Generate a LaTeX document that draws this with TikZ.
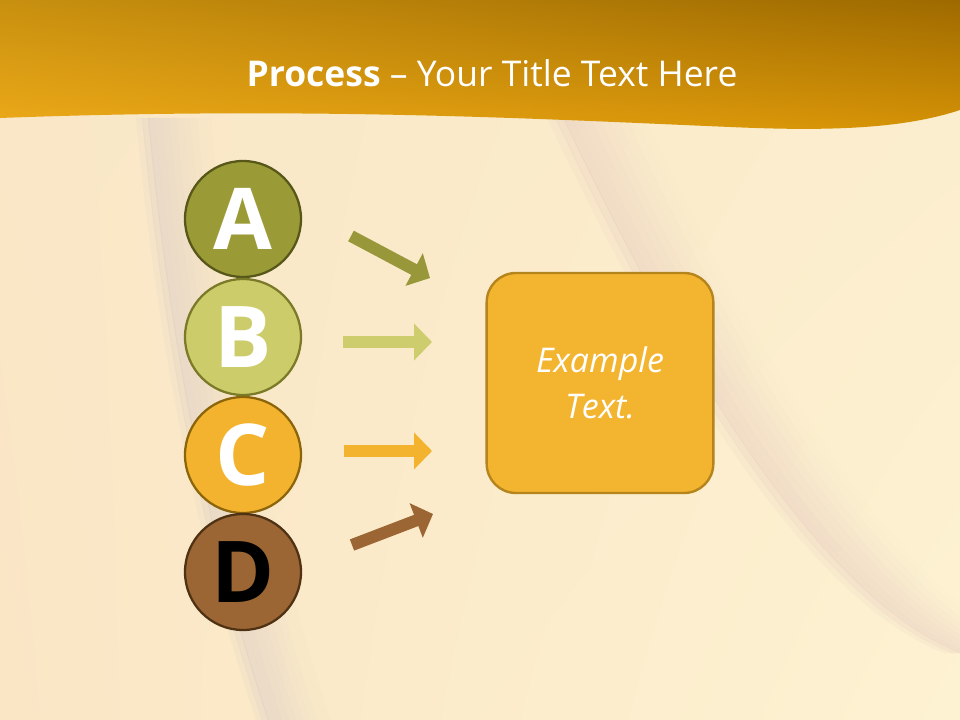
\documentclass[tikz,border=0pt]{standalone}
\usepackage{fontspec}
\setmainfont{Open Sans}
\usetikzlibrary{arrows.meta,shadings}
\definecolor{bgA}{HTML}{F9E7C7}
\definecolor{bgB}{HTML}{FBEDCD}
\definecolor{bgC}{HTML}{FAE6C5}
\definecolor{bgD}{HTML}{FDF2D2}
\definecolor{shadeL}{HTML}{D6C8C6}
\definecolor{shadeR}{HTML}{E6CBC0}
\definecolor{ttlUL}{HTML}{C8900F}
\definecolor{ttlUR}{HTML}{9E6A00}
\definecolor{ttlLL}{HTML}{EDAA19}
\definecolor{ttlLR}{HTML}{D59205}
\definecolor{aFill}{HTML}{9A9A36}
\definecolor{aLine}{HTML}{575719}
\definecolor{bFill}{HTML}{CCCC6A}
\definecolor{bLine}{HTML}{7A7A28}
\definecolor{cFill}{HTML}{F3B32E}
\definecolor{cLine}{HTML}{8C640A}
\definecolor{dFill}{HTML}{9B6634}
\definecolor{dLine}{HTML}{4F3214}
\definecolor{aArrow}{HTML}{98983A}
\definecolor{bArrow}{HTML}{CDCD6E}
\definecolor{boxFill}{HTML}{F3B42F}
\definecolor{boxLine}{HTML}{B5841C}
\begin{document}
\begin{tikzpicture}[x=0.75pt,y=-0.75pt,
  letter/.style={circle,minimum size=87pt,inner sep=0pt,line width=1.7pt,
    font=\fontsize{64}{64}\selectfont\bfseries},
  flow/.style={line width=9pt,-{Triangle[length=13.5pt,width=27pt]}},
  textbox/.style={draw=boxLine,fill=boxFill,line width=1.8pt,rounded corners=22pt,
    minimum width=170pt,minimum height=165pt,align=center,text=white,
    font=\fontsize{25.5}{34.5}\selectfont\itshape}]
\useasboundingbox (0,0) rectangle (960,720);
% background
\shade[upper left=bgA,upper right=bgB,lower left=bgC,lower right=bgD] (0,0) rectangle (960,720);
\begin{scope}
\clip (0,0) rectangle (960,720);
\foreach \d/\o in {-12/0.12,-6/0.28,0/0.42,7/0.4,14/0.34,21/0.28,28/0.22,35/0.16,42/0.11,49/0.06,56/0.03}{
  \pgfmathsetmacro{\e}{\d+7}
  \fill[shadeL,opacity=\o] (148+\d,118) .. controls (165+\d,300) and (200+\d,520) .. (268+\d,720)
    -- (268+\e,720) .. controls (200+\e,520) and (165+\e,300) .. (148+\e,118) -- cycle;
}
\foreach \d/\o in {-16/0.14,-8/0.3,0/0.45,9/0.42,18/0.36,27/0.3,36/0.23,45/0.16,54/0.1,63/0.05,72/0.02}{
  \pgfmathsetmacro{\e}{\d+9}
  \fill[shadeR,opacity=\o] (563+\d,118) .. controls (650+\d,300) and (800+\d,590) .. (960+\d,653)
    -- (960+\e,653) .. controls (800+\e,590) and (650+\e,300) .. (563+\e,118) -- cycle;
}
\end{scope}
% title band
\shade[upper left=ttlUL,upper right=ttlUR,lower left=ttlLL,lower right=ttlLR]
  (0,0) -- (960,0) -- (960,110) .. controls (900,130) and (820,131) .. (730,127)
  .. controls (560,120) and (320,106) .. (0,118) -- cycle;
\node[anchor=base,text=white,font=\fontsize{26.6}{30}\selectfont,inner sep=0pt] (title) at (492,87)
  {\textbf{Process} – Your Title Text Here};
% circles
\node[letter,draw=aLine,fill=aFill,text=white] (A) at (243,219) {A};
\node[letter,draw=bLine,fill=bFill,text=white] (B) at (243,337) {B};
\node[letter,draw=cLine,fill=cFill,text=white] (C) at (243,455) {C};
\node[letter,draw=dLine,fill=dFill,text=black] (D) at (243,572) {D};
% box
\node[textbox] (box) at (600,383) {Example\\Text.};
% arrows
\coordinate (a1) at (351,236); \coordinate (a2) at (430,278);
\coordinate (b1) at (343,342); \coordinate (b2) at (432,342);
\coordinate (c1) at (344,451); \coordinate (c2) at (432,451);
\coordinate (d1) at (352,545); \coordinate (d2) at (433,514);
\draw[flow,aArrow] (a1) -- (a2);
\draw[flow,bArrow] (b1) -- (b2);
\draw[flow,cFill] (c1) -- (c2);
\draw[flow,dFill] (d1) -- (d2);
\end{tikzpicture}
\end{document}
